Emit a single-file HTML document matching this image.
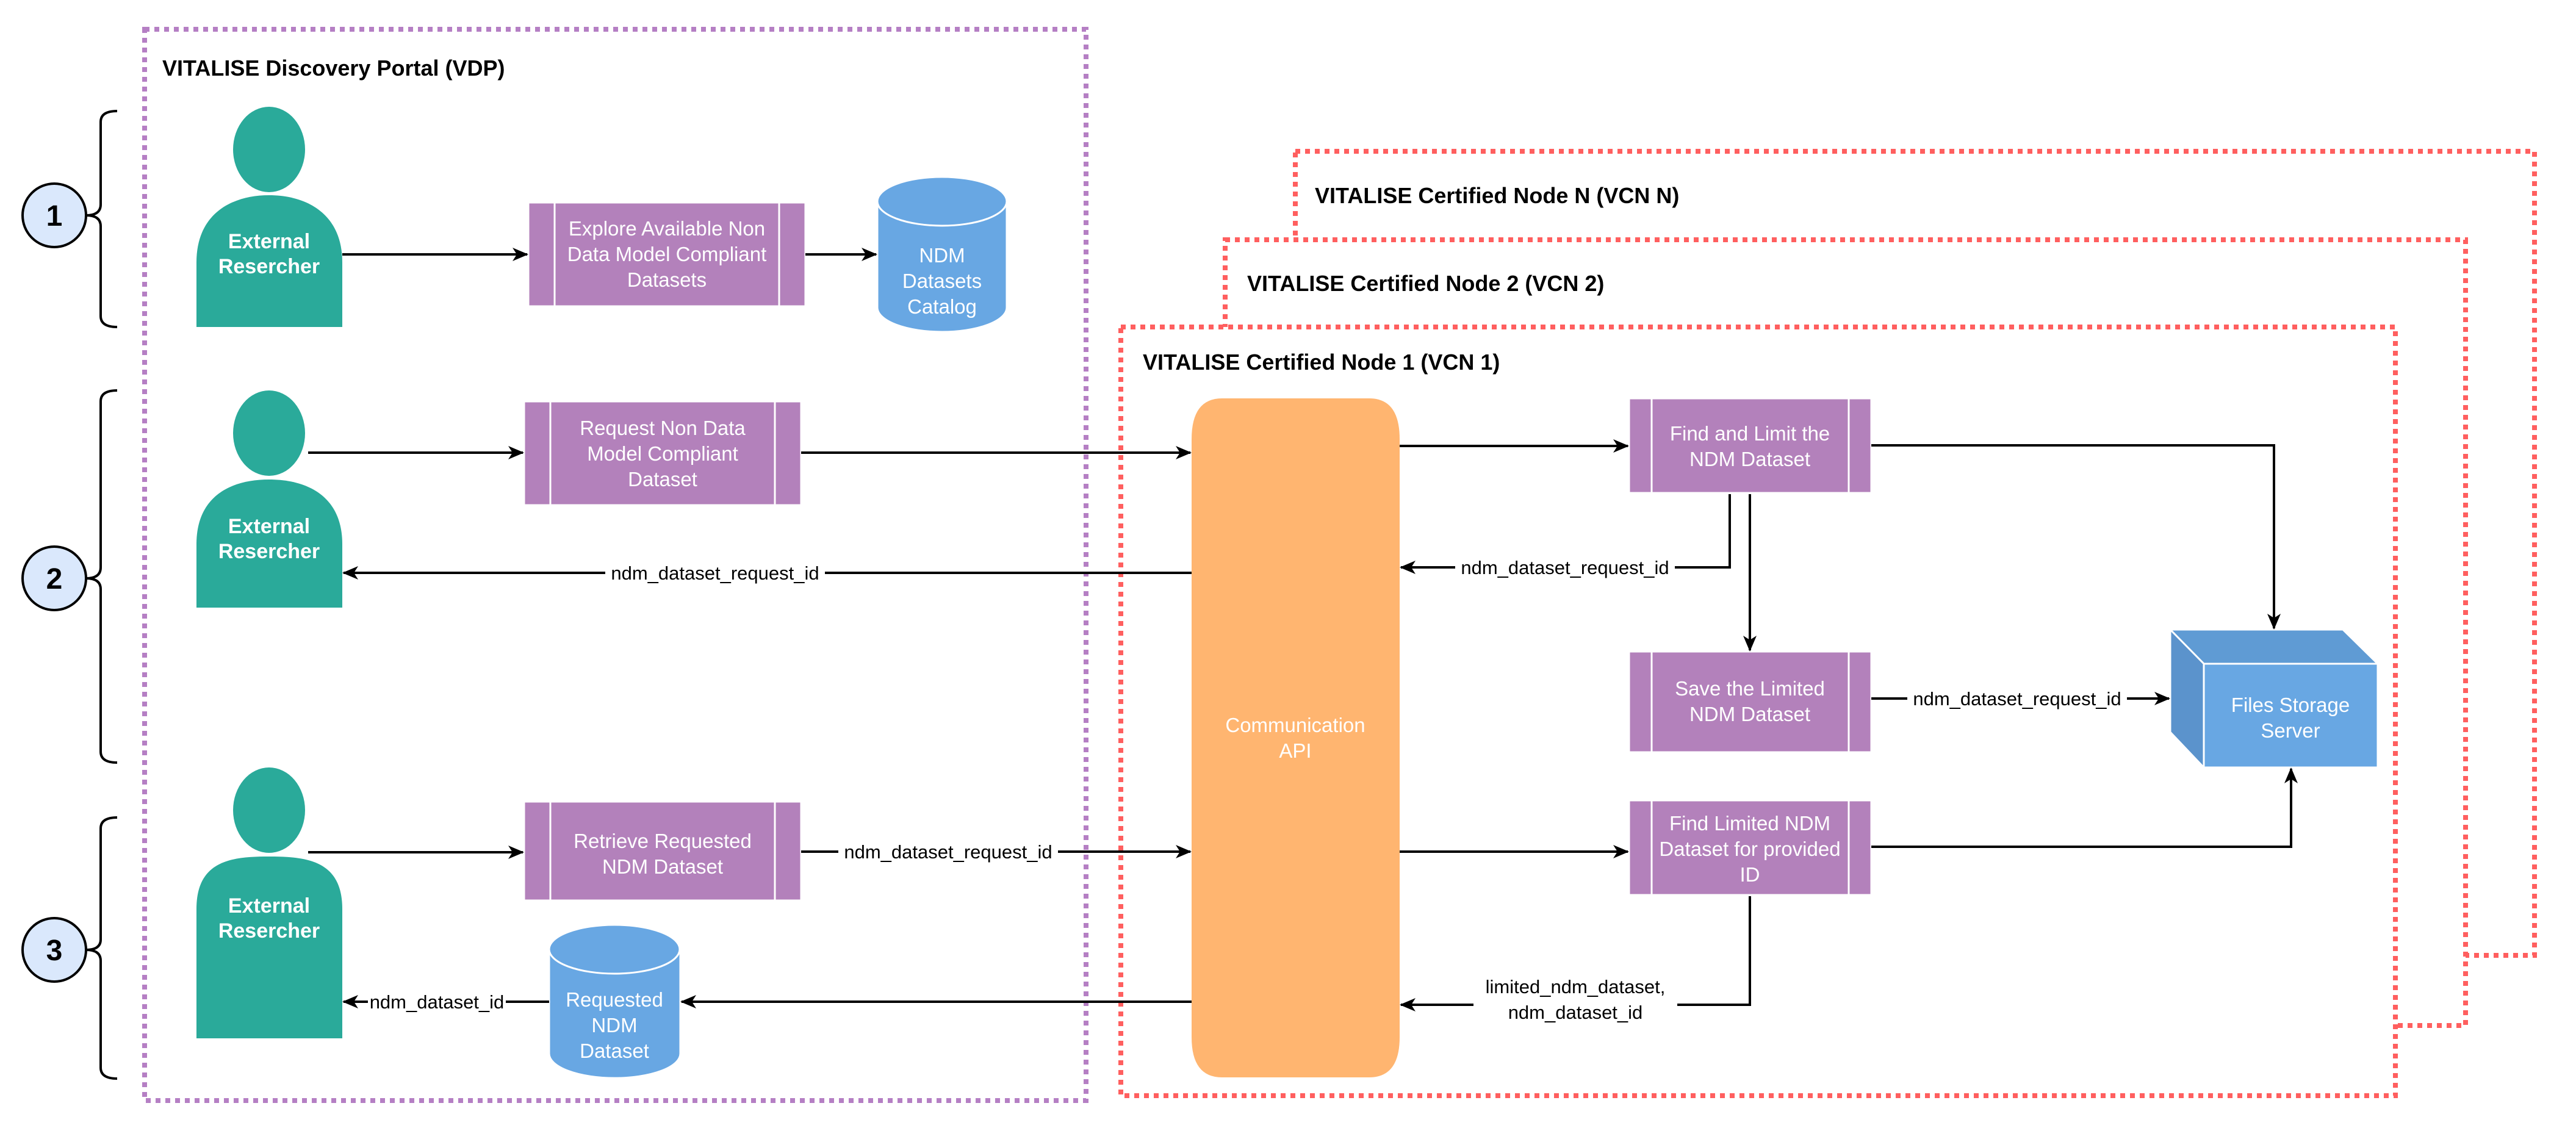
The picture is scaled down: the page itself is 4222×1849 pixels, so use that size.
<!DOCTYPE html>
<html><head><meta charset="utf-8"><style>
html,body{margin:0;padding:0;background:#fff;}
svg{display:block;font-family:"Liberation Sans",Arial,sans-serif;}
.t{font-size:33px;fill:#fff;text-anchor:middle;}
.b{font-size:34px;fill:#fff;font-weight:bold;text-anchor:middle;}
.l{font-size:31px;fill:#000;text-anchor:middle;}
.h{font-size:36px;font-weight:bold;fill:#000;}
.ln{stroke:#000;stroke-width:4;fill:none;}
</style></head><body>
<svg width="4222" height="1849" viewBox="0 0 4222 1849" xmlns="http://www.w3.org/2000/svg">
<defs>
<marker id="A" markerWidth="26" markerHeight="26" refX="24" refY="13" orient="auto" markerUnits="userSpaceOnUse"><path d="M0,2 L26,13 L0,24 L7,13 Z" fill="#000"/></marker>
</defs>
<rect width="4222" height="1849" fill="#fff"/>

<rect x="237" y="48" width="1543" height="1756" fill="none" stroke="#b57fc4" stroke-width="8" stroke-dasharray="8 8"/>
<rect x="2123" y="248" width="2031" height="1318" fill="none" stroke="#ff5f5f" stroke-width="8" stroke-dasharray="8 8"/>
<rect x="2008" y="393" width="2033" height="1288" fill="#fff" stroke="#ff5f5f" stroke-width="8" stroke-dasharray="8 8"/>
<rect x="1837" y="536" width="2089" height="1260" fill="#fff" stroke="#ff5f5f" stroke-width="8" stroke-dasharray="8 8"/>
<text class="h" x="266" y="124">VITALISE Discovery Portal (VDP)</text>
<text class="h" x="2155" y="333">VITALISE Certified Node N (VCN N)</text>
<text class="h" x="2044" y="477">VITALISE Certified Node 2 (VCN 2)</text>
<text class="h" x="1873" y="606">VITALISE Certified Node 1 (VCN 1)</text>

<g stroke="#000" stroke-width="4" fill="#dae8fc">
<circle cx="89" cy="353" r="52"/><circle cx="89" cy="948" r="52"/><circle cx="89" cy="1557" r="52"/>
</g>
<g font-size="48" font-weight="bold" text-anchor="middle">
<text x="89" y="370">1</text><text x="89" y="965">2</text><text x="89" y="1574">3</text>
</g>
<g class="ln" stroke-width="3">
<path d="M192,182 Q165,182 165,200 L165,335 Q165,353 141,353 Q165,353 165,371 L165,518 Q165,536 192,536"/>
<path d="M192,640 Q165,640 165,658 L165,930 Q165,948 141,948 Q165,948 165,966 L165,1232 Q165,1250 192,1250"/>
<path d="M192,1340 Q165,1340 165,1358 L165,1540 Q165,1557 141,1557 Q165,1557 165,1575 L165,1750 Q165,1768 192,1768"/>
</g>

<g fill="#2aaa9a">
<ellipse cx="441" cy="245" rx="59" ry="70"/>
<path d="M322,536 L322,430 C322,350 380,320 441,320 C502,320 561,350 561,430 L561,536 Z"/>
<ellipse cx="441" cy="710" rx="59" ry="70"/>
<path d="M322,996 L322,892 C322,812 380,786 441,786 C502,786 561,812 561,892 L561,996 Z"/>
<ellipse cx="441" cy="1328" rx="59" ry="70"/>
<path d="M322,1702 L322,1490 C322,1410 380,1404 441,1404 C502,1404 561,1410 561,1490 L561,1702 Z"/>
</g>
<text class="b" x="441" y="407">External</text><text class="b" x="441" y="448">Resercher</text>
<text class="b" x="441" y="874">External</text><text class="b" x="441" y="915">Resercher</text>
<text class="b" x="441" y="1496">External</text><text class="b" x="441" y="1537">Resercher</text>

<g fill="#b381bb" stroke="#fff" stroke-width="3">
<rect x="866" y="332" width="454" height="170"/><line x1="909" y1="332" x2="909" y2="502"/><line x1="1277" y1="332" x2="1277" y2="502"/>
<rect x="859" y="658" width="454" height="170"/><line x1="902" y1="658" x2="902" y2="828"/><line x1="1270" y1="658" x2="1270" y2="828"/>
<rect x="859" y="1314" width="454" height="162"/><line x1="902" y1="1314" x2="902" y2="1476"/><line x1="1270" y1="1314" x2="1270" y2="1476"/>
<rect x="2670" y="653" width="397" height="155"/><line x1="2707" y1="653" x2="2707" y2="808"/><line x1="3030" y1="653" x2="3030" y2="808"/>
<rect x="2670" y="1068" width="397" height="165"/><line x1="2707" y1="1068" x2="2707" y2="1233"/><line x1="3030" y1="1068" x2="3030" y2="1233"/>
<rect x="2670" y="1312" width="397" height="155"/><line x1="2707" y1="1312" x2="2707" y2="1467"/><line x1="3030" y1="1312" x2="3030" y2="1467"/>
</g>
<text class="t" x="1093" y="386">Explore Available Non</text><text class="t" x="1093" y="428">Data Model Compliant</text><text class="t" x="1093" y="470">Datasets</text>
<text class="t" x="1086" y="713">Request Non Data</text><text class="t" x="1086" y="755">Model Compliant</text><text class="t" x="1086" y="797">Dataset</text>
<text class="t" x="1086" y="1390">Retrieve Requested</text><text class="t" x="1086" y="1432">NDM Dataset</text>
<text class="t" x="2868" y="722">Find and Limit the</text><text class="t" x="2868" y="764">NDM Dataset</text>
<text class="t" x="2868" y="1140">Save the Limited</text><text class="t" x="2868" y="1182">NDM Dataset</text>
<text class="t" x="2868" y="1361">Find Limited NDM</text><text class="t" x="2868" y="1403">Dataset for provided</text><text class="t" x="2868" y="1445">ID</text>

<g fill="#68a7e3" stroke="#fff" stroke-width="3">
<path d="M1438,330 L1438,504 A106,40 0 0 0 1650,504 L1650,330"/>
<ellipse cx="1544" cy="330" rx="106" ry="40"/>
<path d="M900,1556 L900,1727 A107,40 0 0 0 1115,1727 L1115,1556"/>
<ellipse cx="1007" cy="1556" rx="107" ry="40"/>
</g>
<text class="t" x="1544" y="430">NDM</text><text class="t" x="1544" y="472">Datasets</text><text class="t" x="1544" y="514">Catalog</text>
<text class="t" x="1007" y="1650">Requested</text><text class="t" x="1007" y="1692">NDM</text><text class="t" x="1007" y="1734">Dataset</text>

<path d="M2003,653 L2244,653 Q2294,653 2294,720 L2294,1700 Q2294,1766 2244,1766 L2003,1766 Q1953,1766 1953,1700 L1953,720 Q1953,653 2003,653 Z" fill="#ffb570"/>
<text class="t" x="2123" y="1200">Communication</text><text class="t" x="2123" y="1242">API</text>

<g stroke="#fff" stroke-width="3">
<path d="M3557,1032 L3840,1032 L3897,1088 L3612,1088 Z" fill="#5f9bd4"/>
<path d="M3557,1032 L3612,1088 L3612,1258 L3557,1200 Z" fill="#5b93cc"/>
<rect x="3612" y="1088" width="285" height="170" fill="#68a7e3"/>
</g>
<text class="t" x="3754" y="1167">Files Storage</text><text class="t" x="3754" y="1209">Server</text>

<g class="ln">
<line x1="561" y1="417" x2="864" y2="417" marker-end="url(#A)"/>
<line x1="1320" y1="417" x2="1436" y2="417" marker-end="url(#A)"/>
<line x1="505" y1="742" x2="857" y2="742" marker-end="url(#A)"/>
<line x1="1313" y1="742" x2="1951" y2="742" marker-end="url(#A)"/>
<line x1="1953" y1="939" x2="563" y2="939" marker-end="url(#A)"/>
<line x1="2294" y1="731" x2="2668" y2="731" marker-end="url(#A)"/>
<polyline points="3067,730 3727,730 3727,1030" marker-end="url(#A)"/>
<polyline points="2835,810 2835,930 2296,930" marker-end="url(#A)"/>
<line x1="2868" y1="810" x2="2868" y2="1066" marker-end="url(#A)"/>
<line x1="3067" y1="1145" x2="3555" y2="1145" marker-end="url(#A)"/>
<line x1="505" y1="1397" x2="857" y2="1397" marker-end="url(#A)"/>
<line x1="1313" y1="1396" x2="1951" y2="1396" marker-end="url(#A)"/>
<line x1="2294" y1="1396" x2="2668" y2="1396" marker-end="url(#A)"/>
<polyline points="3067,1388 3755,1388 3755,1260" marker-end="url(#A)"/>
<polyline points="2868,1469 2868,1647 2296,1647" marker-end="url(#A)"/>
<line x1="1953" y1="1642" x2="1117" y2="1642" marker-end="url(#A)"/>
<line x1="900" y1="1642" x2="563" y2="1642" marker-end="url(#A)"/>
</g>
<g>
<rect x="992" y="920" width="360" height="38" fill="#fff"/><text class="l" x="1172" y="950">ndm_dataset_request_id</text>
<rect x="2385" y="911" width="360" height="38" fill="#fff"/><text class="l" x="2565" y="941">ndm_dataset_request_id</text>
<rect x="3126" y="1126" width="360" height="38" fill="#fff"/><text class="l" x="3306" y="1156">ndm_dataset_request_id</text>
<rect x="1374" y="1377" width="360" height="38" fill="#fff"/><text class="l" x="1554" y="1407">ndm_dataset_request_id</text>
<rect x="2415" y="1594" width="334" height="84" fill="#fff"/><text class="l" x="2582" y="1628">limited_ndm_dataset,</text><text class="l" x="2582" y="1670">ndm_dataset_id</text>
<rect x="603" y="1623" width="226" height="38" fill="#fff"/><text class="l" x="716" y="1653">ndm_dataset_id</text>
</g>
</svg>
</body></html>
